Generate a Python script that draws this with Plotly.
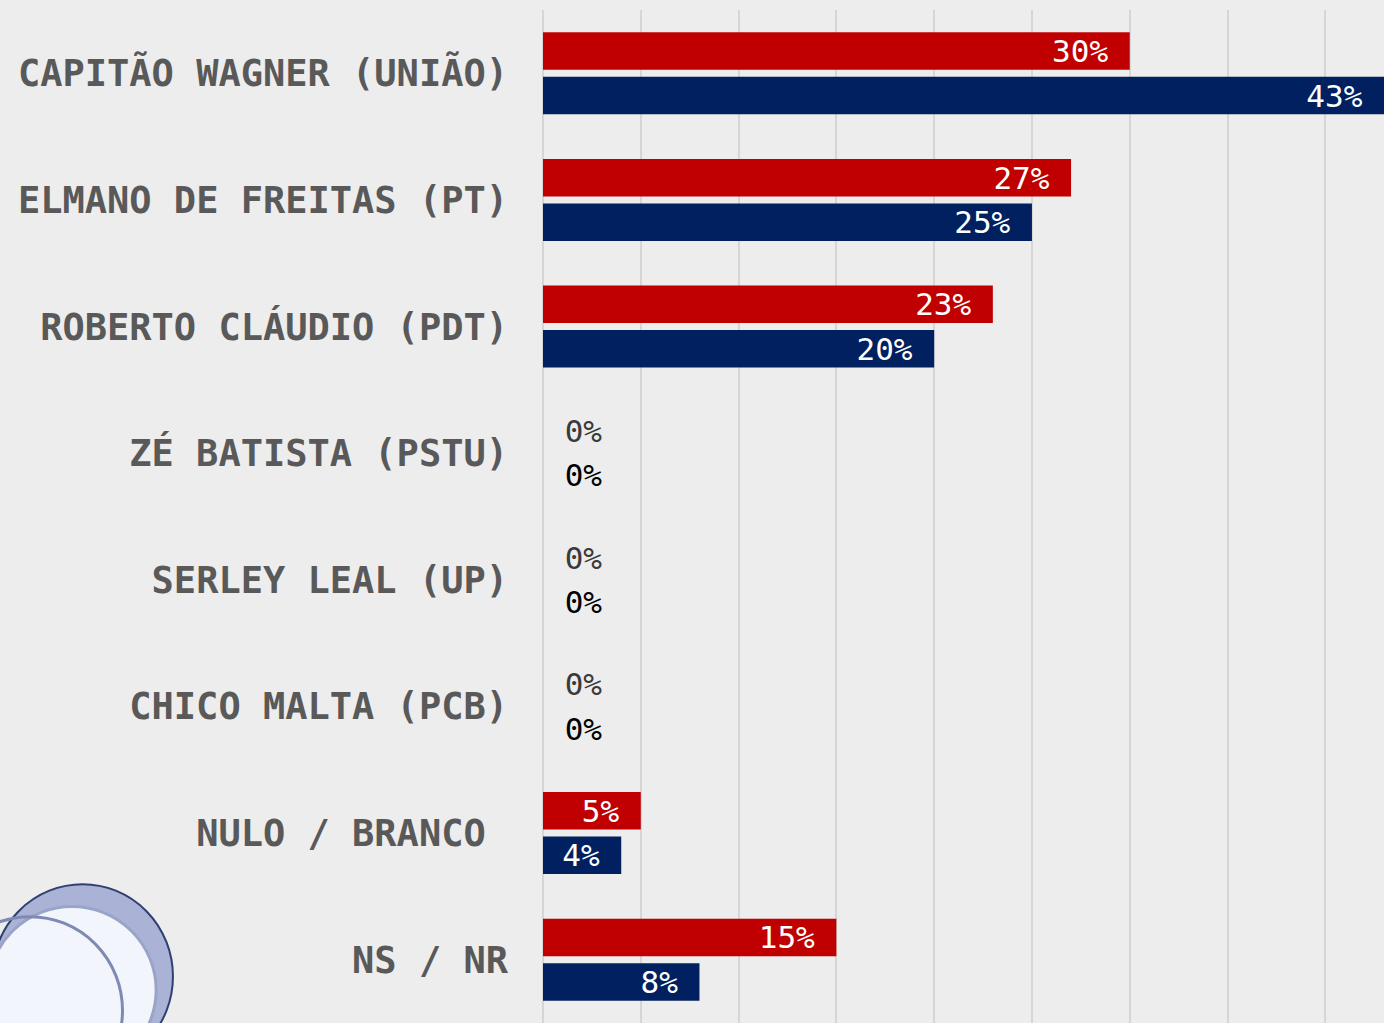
import plotly.graph_objects as go

categories = [
    "CAPITÃO WAGNER (UNIÃO)",
    "ELMANO DE FREITAS (PT)",
    "ROBERTO CLÁUDIO (PDT)",
    "ZÉ BATISTA (PSTU)",
    "SERLEY LEAL (UP)",
    "CHICO MALTA (PCB)",
    "NULO / BRANCO\u00a0",
    "NS / NR",
]
red_values = [30, 27, 23, 0, 0, 0, 5, 15]
blue_values = [43, 25, 20, 0, 0, 0, 4, 8]

RED = "#C00000"
NAVY = "#002060"
MONO = "DejaVu Sans Mono, Liberation Mono, monospace"


def labels(vals):
    return [f"{v}%\u2002" if v > 0 else f"\u00a0{v}%" for v in vals]


def positions(vals):
    return ["inside" if v > 0 else "outside" for v in vals]


fig = go.Figure()
for vals, color, zero_color, name in [
    (red_values, RED, "#3a3a3a", "Série 1"),
    (blue_values, NAVY, "#000000", "Série 2"),
]:
    fig.add_trace(go.Bar(
        y=categories,
        x=vals,
        orientation="h",
        name=name,
        marker=dict(color=color, line=dict(width=0)),
        text=labels(vals),
        textposition=positions(vals),
        insidetextanchor="end",
        insidetextfont=dict(family=MONO, size=31, color="white"),
        outsidetextfont=dict(family=MONO, size=31, color=zero_color),
        cliponaxis=False,
        hoverinfo="x+y",
    ))

# decorative logo (bottom-left)
shapes = [
    dict(type="circle", xref="paper", yref="paper",
         x0=-0.655, x1=-0.44, y0=-0.045, y1=0.137,
         fillcolor="#aab3d6", line=dict(color="#2f3f70", width=2), layer="above"),
    dict(type="circle", xref="paper", yref="paper",
         x0=-0.66, x1=-0.46, y0=-0.05, y1=0.115,
         fillcolor="#f3f5fc", line=dict(color="#9aa4c8", width=3), layer="above"),
    dict(type="circle", xref="paper", yref="paper",
         x0=-0.72, x1=-0.50, y0=-0.08, y1=0.105,
         fillcolor="rgba(0,0,0,0)", line=dict(color="#7f8ab4", width=3), layer="above"),
]

fig.update_layout(
    width=1384,
    height=1023,
    margin=dict(l=543, r=0, t=10, b=0),
    paper_bgcolor="#ededed",
    plot_bgcolor="#ededed",
    barmode="group",
    bargap=0.297,
    bargroupgap=0.157,
    showlegend=False,
    shapes=shapes,
    uniformtext=dict(minsize=31, mode="show"),
)
fig.update_xaxes(
    range=[0, 43],
    dtick=5,
    showticklabels=False,
    showgrid=True,
    gridcolor="#d6d6d6",
    gridwidth=2,
    zeroline=True,
    zerolinecolor="#d6d6d6",
    zerolinewidth=2,
    fixedrange=True,
)
fig.update_yaxes(
    autorange="reversed",
    showgrid=False,
    ticks="",
    ticklabelstandoff=34,
    tickfont=dict(family=MONO, size=37, color="#595959", weight="bold"),
    fixedrange=True,
)

fig.write_html(
    "out.html",
    config={"displayModeBar": False},
    post_script="document.body.style.margin='0';document.body.style.overflow='hidden';",
)
